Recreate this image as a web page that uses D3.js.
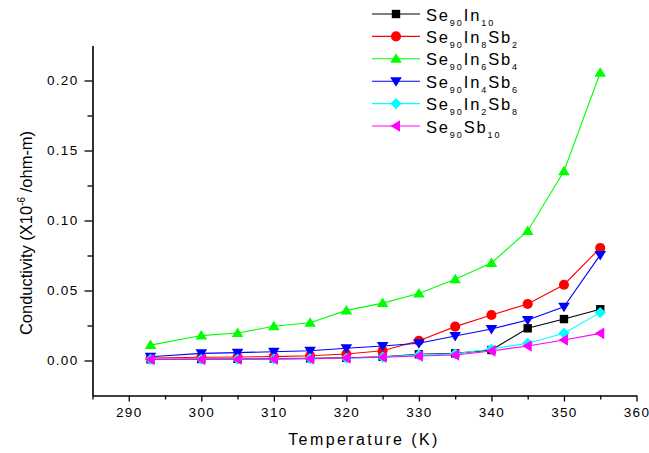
<!DOCTYPE html>
<html>
<head>
<meta charset="utf-8">
<script src="https://cdn.jsdelivr.net/npm/d3@7/dist/d3.min.js"></script>
<style>
  html, body { margin: 0; padding: 0; background: #fff; }
  svg { display: block; font-family: "Liberation Sans", Arial, sans-serif; }
</style>
</head>
<body>
<svg id="chart" width="649" height="453"></svg>
<script>
// Temperatures (K) at which conductivity was measured
const temperatures = [293, 300, 305, 310, 315, 320, 325, 330, 335, 340, 345, 350, 355];

// Conductivity (x10^-6 /ohm-m) for each composition
const se90In10     = [0.0009, 0.0011, 0.0012, 0.0014, 0.0016, 0.0020, 0.0027, 0.0044, 0.0051, 0.0075, 0.0230, 0.0296, 0.0366];
const se90In8Sb2   = [0.0018, 0.0023, 0.0025, 0.0028, 0.0034, 0.0046, 0.0070, 0.0141, 0.0242, 0.0325, 0.0404, 0.0541, 0.0804];
const se90In6Sb4   = [0.0110, 0.0178, 0.0196, 0.0245, 0.0270, 0.0358, 0.0410, 0.0478, 0.0580, 0.0697, 0.0925, 0.1352, 0.2055];
const se90In4Sb6   = [0.0027, 0.0051, 0.0056, 0.0063, 0.0070, 0.0087, 0.0104, 0.0123, 0.0175, 0.0225, 0.0289, 0.0384, 0.0754];
const se90In2Sb8   = [0.0008, 0.0009, 0.0010, 0.0011, 0.0013, 0.0016, 0.0024, 0.0040, 0.0048, 0.0082, 0.0123, 0.0194, 0.0342];
const se90Sb10     = [0.0007, 0.0008, 0.0009, 0.0010, 0.0012, 0.0018, 0.0023, 0.0032, 0.0039, 0.0068, 0.0104, 0.0146, 0.0194];

const seriesNames  = ["Se90In10", "Se90In8Sb2", "Se90In6Sb4", "Se90In4Sb6", "Se90In2Sb8", "Se90Sb10"];
const seriesValues = [se90In10, se90In8Sb2, se90In6Sb4, se90In4Sb6, se90In2Sb8, se90Sb10];
const seriesColors = ["#000000", "#ff0000", "#00ff00", "#0000ff", "#00ffff", "#ff00ff"];
const seriesShapes = ["square", "circle", "triUp", "triDown", "diamond", "triLeft"];

const xMajorTicks = [290, 300, 310, 320, 330, 340, 350, 360];
const xMinorTicks = [285, 295, 305, 315, 325, 335, 345, 355];
const yMajorTicks = [0.00, 0.05, 0.10, 0.15, 0.20];
const yMinorTicks = [0.025, 0.075, 0.125, 0.175];

const svg = d3.select("#chart");

const x = d3.scaleLinear().domain([285, 360]).range([92.5, 636.5]);
const y = d3.scaleLinear().domain([-0.025, 0.225]).range([395.5, 45.5]);

// Axes
const xAxisG = svg.append("g").attr("transform", `translate(0,${y.range()[0]})`);
xAxisG.call(d3.axisBottom(x).tickValues(xMajorTicks).tickSize(6).tickSizeOuter(0)
  .tickPadding(6).tickFormat(d3.format("d")));
const xMinorG = svg.append("g").attr("transform", `translate(0,${y.range()[0]})`);
xMinorG.call(d3.axisBottom(x).tickValues(xMinorTicks).tickSize(4).tickSizeOuter(0).tickFormat(""));
xMinorG.select(".domain").remove();

const yAxisG = svg.append("g").attr("transform", `translate(${x.range()[0]},0)`);
yAxisG.call(d3.axisLeft(y).tickValues(yMajorTicks).tickSize(8).tickSizeOuter(0)
  .tickPadding(6).tickFormat(d3.format(".2f")));
const yMinorG = svg.append("g").attr("transform", `translate(${x.range()[0]},0)`);
yMinorG.call(d3.axisLeft(y).tickValues(yMinorTicks).tickSize(5).tickSizeOuter(0).tickFormat(""));
yMinorG.select(".domain").remove();

svg.selectAll(".domain").attr("stroke", "#000").attr("stroke-width", 1.6);
svg.selectAll(".tick line").attr("stroke", "#000").attr("stroke-width", 1.3);
svg.selectAll(".tick text")
  .attr("font-family", "'Liberation Sans', Arial, sans-serif")
  .attr("font-size", 13.5)
  .attr("letter-spacing", 1.3)
  .attr("fill", "#000");

// Axis titles
svg.append("text")
  .attr("x", 364).attr("y", 445)
  .attr("text-anchor", "middle")
  .attr("font-size", 16)
  .attr("letter-spacing", 2.4)
  .text("Temperature (K)");

const yTitle = svg.append("text")
  .attr("transform", "translate(32,233) rotate(-90)")
  .attr("text-anchor", "middle")
  .attr("font-size", 16.5);
yTitle.append("tspan").text("Conductivity (X10");
yTitle.append("tspan").attr("dy", -7).attr("font-size", 10).text("-6");
yTitle.append("tspan").attr("dy", 7).text(" /ohm-m)");

// Marker paths
function markerPath(shape) {
  switch (shape) {
    case "square":  return "M-4.2,-4.2H4.2V4.2H-4.2Z";
    case "circle":  return d3.symbol(d3.symbolCircle, 80)();
    case "triUp":   return "M0,-5.5L5.8,4L-5.8,4Z";
    case "triDown": return "M0,5.5L5.8,-4L-5.8,-4Z";
    case "diamond": return "M0,-5.6L5.6,0L0,5.6L-5.6,0Z";
    case "triLeft": return "M-5.5,0L4,-5.8L4,5.8Z";
  }
}

const line = d3.line().x(d => x(d[0])).y(d => y(d[1]));

seriesValues.forEach((vals, i) => {
  const pts = temperatures.map((t, j) => [t, vals[j]]);
  const g = svg.append("g");
  g.append("path")
    .attr("d", line(pts))
    .attr("fill", "none")
    .attr("stroke", seriesColors[i])
    .attr("stroke-width", 1.1);
  g.selectAll("path.mark").data(pts).enter().append("path")
    .attr("class", "mark")
    .attr("transform", d => `translate(${x(d[0])},${y(d[1])})`)
    .attr("d", markerPath(seriesShapes[i]))
    .attr("fill", seriesColors[i]);
});

// Legend: digits in the formula are drawn as subscripts
const legend = svg.append("g");
seriesNames.forEach((name, i) => {
  const cy = 14 + 22.4 * i;
  legend.append("line")
    .attr("x1", 372).attr("x2", 420).attr("y1", cy).attr("y2", cy)
    .attr("stroke", seriesColors[i]).attr("stroke-width", 1.1);
  legend.append("path")
    .attr("transform", `translate(396,${cy})`)
    .attr("d", markerPath(seriesShapes[i]))
    .attr("fill", seriesColors[i]);
  const t = legend.append("text")
    .attr("x", 426).attr("y", cy + 6.5)
    .attr("font-size", 16.5)
    .attr("letter-spacing", 1.8);
  const parts = name.match(/[A-Za-z]+|\d+/g);
  let sub = false;
  parts.forEach(p => {
    const isDigit = /^\d+$/.test(p);
    const ts = t.append("tspan").text(p);
    if (isDigit && !sub) { ts.attr("dy", 5).attr("font-size", 9).attr("letter-spacing", 2); sub = true; }
    else if (!isDigit && sub) { ts.attr("dy", -5); sub = false; }
    else if (isDigit) { ts.attr("font-size", 9); }
  });
});
</script>
</body>
</html>
